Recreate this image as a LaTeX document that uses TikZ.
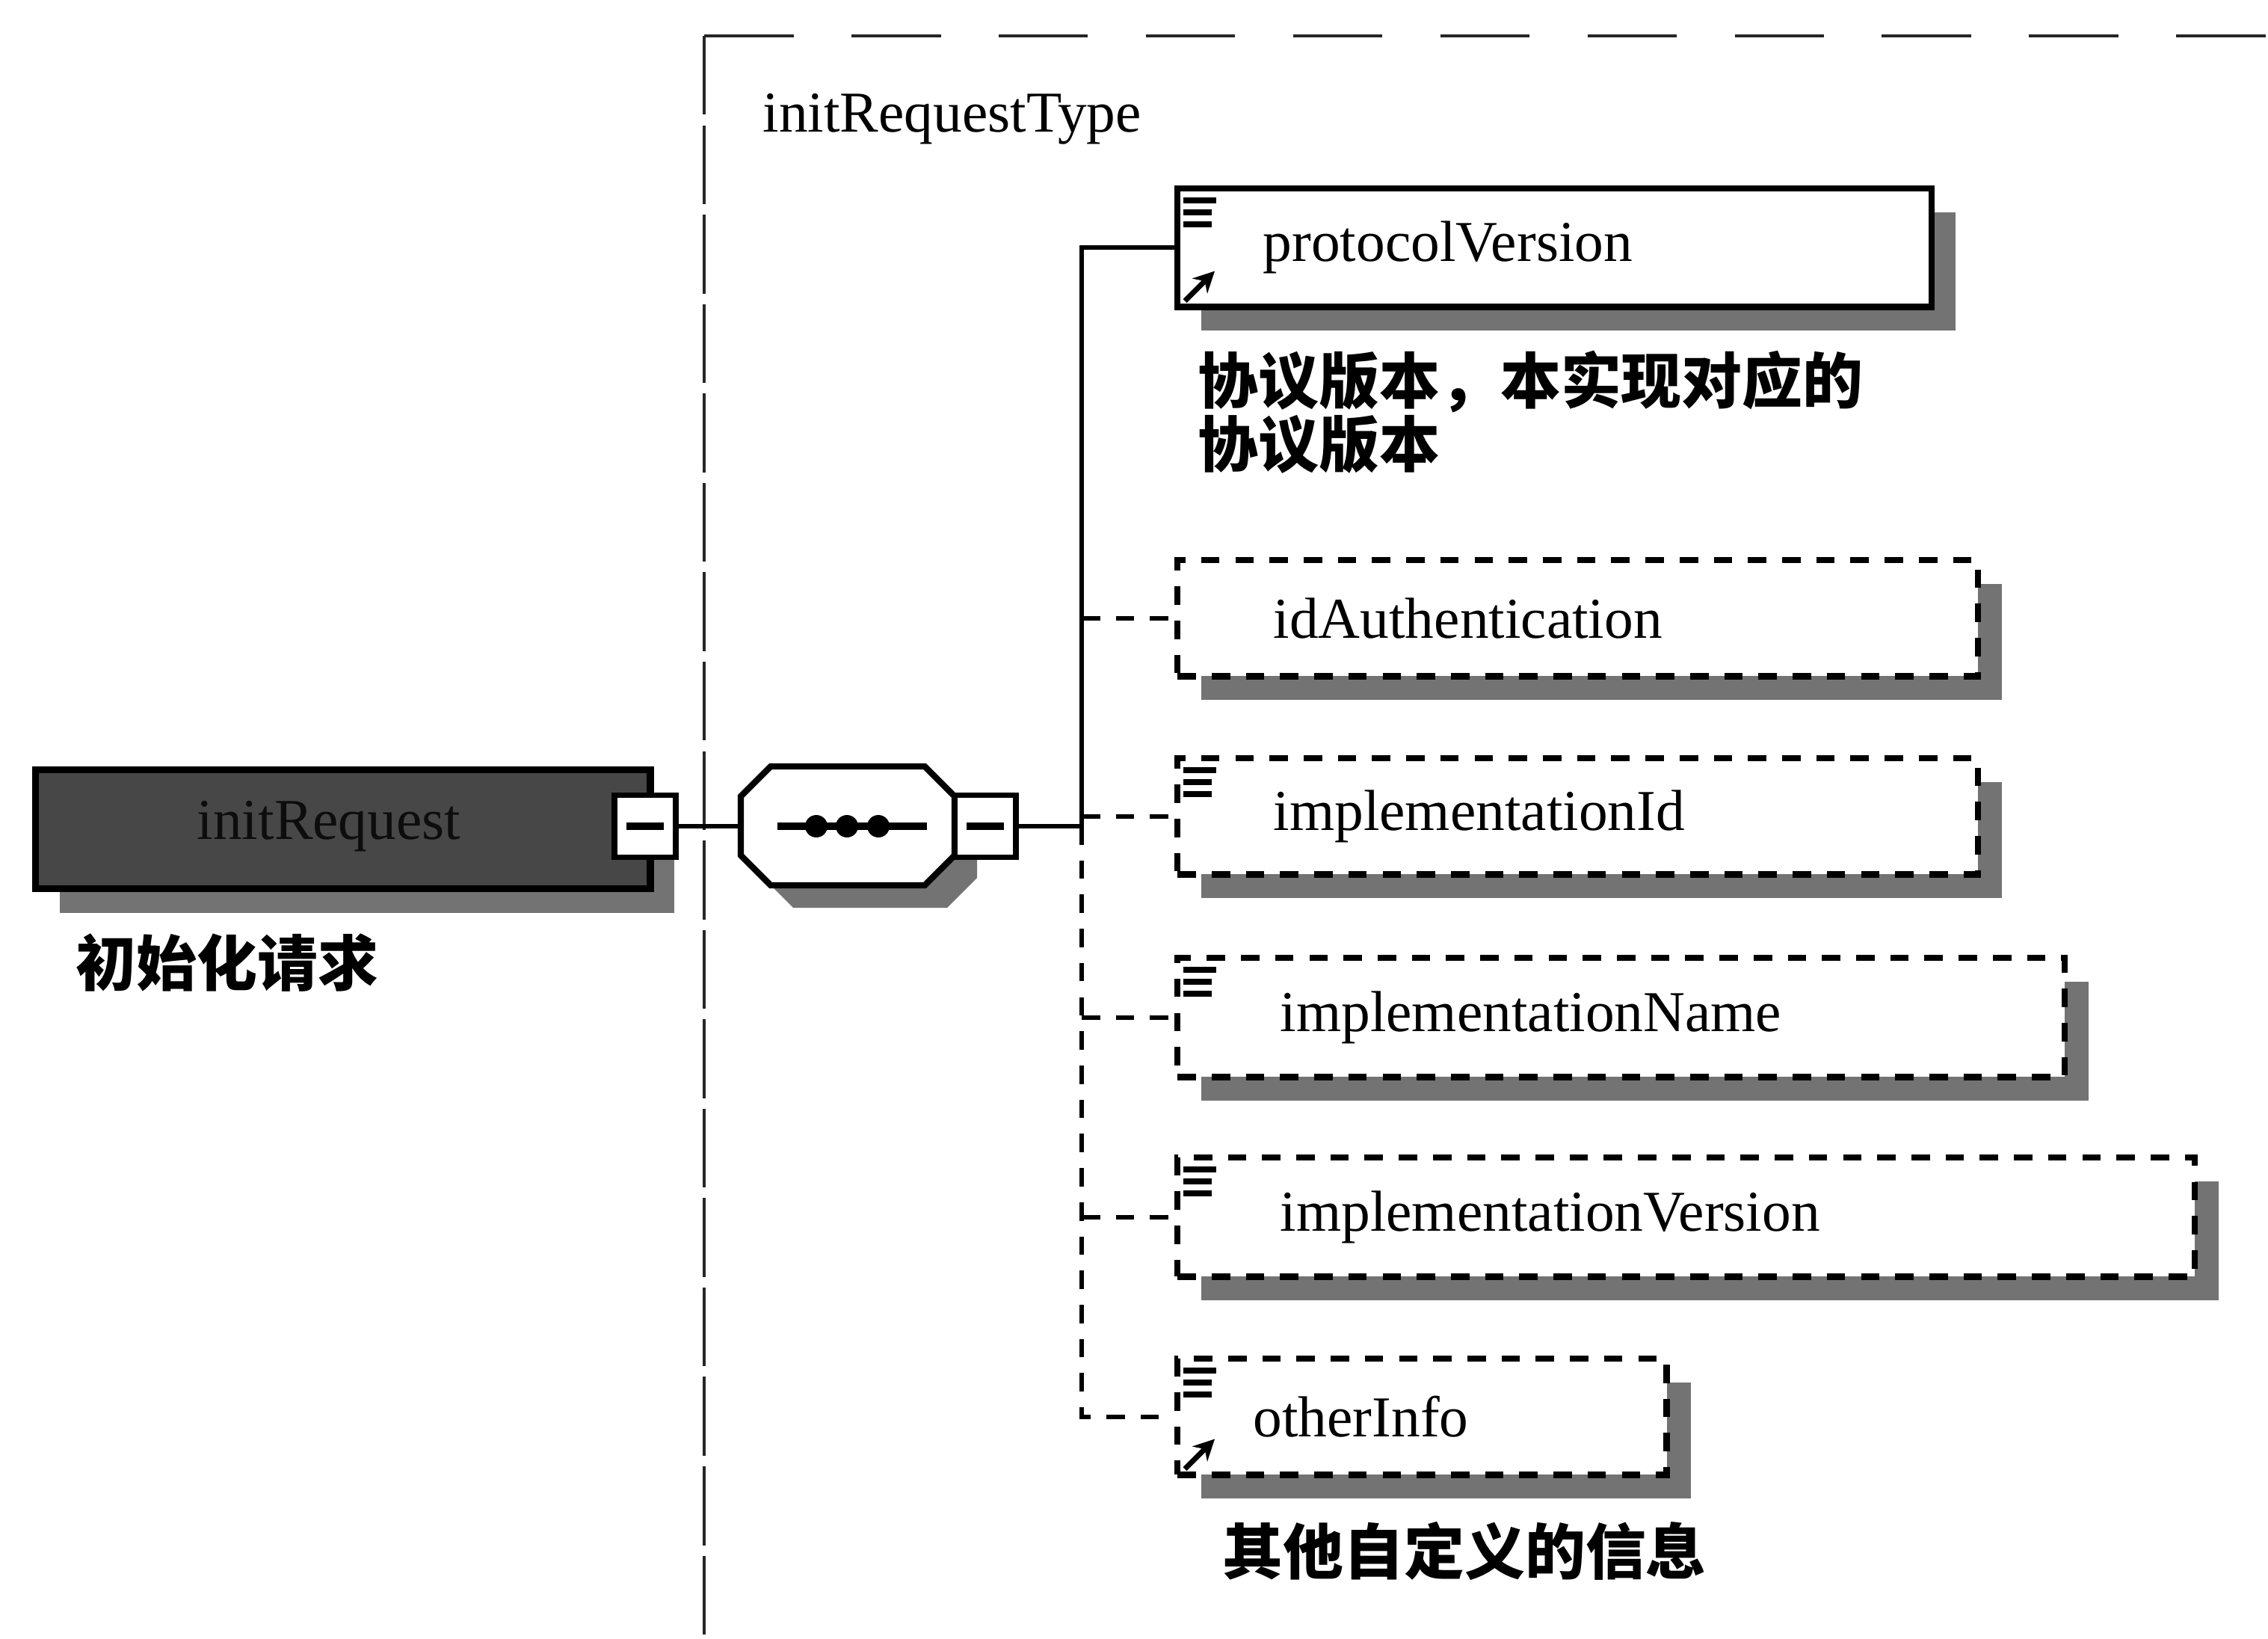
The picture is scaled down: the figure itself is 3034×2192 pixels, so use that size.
\documentclass[tikz,border=0pt]{standalone}
\usepackage{fontspec}
\setmainfont{Liberation Serif}
\newfontfamily\cjk{Noto Sans CJK SC}
\usetikzlibrary{calc,arrows.meta,shadows}
\newcommand\listicon[1]{%
  \draw[iconline] ($(#1.north west)+(12,20)$) -- ++(44,0);
  \draw[iconline] ($(#1.north west)+(12,36)$) -- ++(38,0);
  \draw[iconline] ($(#1.north west)+(12,52)$) -- ++(38,0);}
\newcommand\reficon[1]{%
  \draw[iconline,-{Stealth[length=8pt,width=8pt]}] ($(#1.south west)+(14,-12)$) -- ++(40,-40);}
\begin{document}
\begin{tikzpicture}[x=0.01cm,y=-0.01cm,
  lat/.style={font=\fontsize{22}{24}\selectfont, inner sep=0pt, anchor=west},
  zh/.style={font=\cjk\bfseries\fontsize{23}{22.5}\selectfont, inner sep=0pt, align=left},
  shad/.style={drop shadow={shadow xshift=0.32cm, shadow yshift=-0.32cm, fill=black!55, draw=none, opacity=1}},
  elem/.style={draw=black, line width=2.4pt, fill=white, inner sep=0pt, anchor=north west, shad},
  optelem/.style={elem, dash pattern=on 7pt off 6pt},
  smallbox/.style={draw=black, line width=2.2pt, fill=white, inner sep=0pt, minimum width=0.82cm, minimum height=0.83cm},
  conn/.style={line width=1.8pt},
  dconn/.style={line width=1.8pt, dash pattern=on 7pt off 6pt},
  frame/.style={line width=1.4pt, black!85},
  iconline/.style={line width=2pt},
]
\fill[white] (0,0) rectangle (3034,2192);
\useasboundingbox (0,0) rectangle (3034,2192);

% type frame
\draw[frame, dash pattern=on 34pt off 22pt] (942,48) -- (3034,48);
\draw[frame, dash pattern=on 30pt off 4pt] (942,48) -- (942,2192);
\node[lat] (typename) at (1020,159) {initRequestType};

% root element
\node[draw=black, line width=2.6pt, fill=black!72, inner sep=0pt, anchor=north west,
      minimum width=8.22cm, minimum height=1.59cm, shad] (req) at (43,1025) {};
\node[lat, anchor=center, text=black!95] (reqt) at (440,1105) {initRequest};
\node[smallbox] (reqc) at (863,1105) {};
\draw[line width=3pt] ($(reqc.center)+(-25,0)$) -- ($(reqc.center)+(25,0)$);
\node[zh, anchor=west] (reqd) at (101,1288) {初始化请求};

% sequence compositor
\node[inner sep=0pt, minimum width=2.86cm, minimum height=1.59cm] (seq) at (1134,1105) {};
\fill[black!55] (1061,1055) -- (1267,1055) -- (1307,1095) -- (1307,1174) -- (1267,1214) -- (1061,1214) -- (1021,1174) -- (1021,1095) -- cycle;
\draw[line width=2.4pt, fill=white] (1031,1025) -- (1237,1025) -- (1277,1065) -- (1277,1144) -- (1237,1184) -- (1031,1184) -- (991,1144) -- (991,1065) -- cycle;
\draw[line width=2.6pt] (1040,1105) -- (1240,1105);
\foreach \dx in {1092,1133,1175} \fill (\dx,1105) circle (15);
\node[smallbox] (seqc) at (1318,1105) {};
\draw[line width=3pt] ($(seqc.center)+(-25,0)$) -- ($(seqc.center)+(25,0)$);
\draw[conn] (reqc.east) -- (seq.west);

% child elements
\node[elem, minimum width=10.08cm, minimum height=1.58cm] (pv) at (1571,248) {};
\node[lat] (pvt) at ($(pv.west)+(118,0)$) {protocolVersion};
\listicon{pv}\reficon{pv}
\node[zh, anchor=north west] (pvd) at (1602,468) {协议版本，本实现对应的\\协议版本};

\node[optelem, minimum width=10.70cm, minimum height=1.55cm] (ida) at (1571,745) {};
\node[lat] (idat) at ($(ida.west)+(132,0)$) {idAuthentication};

\node[optelem, minimum width=10.70cm, minimum height=1.55cm] (iid) at (1571,1010) {};
\node[lat] (iidt) at ($(iid.west)+(132,0)$) {implementationId};
\listicon{iid}

\node[optelem, minimum width=11.86cm, minimum height=1.59cm] (iname) at (1571,1277) {};
\node[lat] (inamet) at ($(iname.west)+(141,0)$) {implementationName};
\listicon{iname}

\node[optelem, minimum width=13.60cm, minimum height=1.59cm] (iver) at (1571,1544) {};
\node[lat] (ivert) at ($(iver.west)+(141,0)$) {implementationVersion};
\listicon{iver}

\node[optelem, minimum width=6.54cm, minimum height=1.55cm] (oi) at (1571,1813) {};
\node[lat] (oit) at ($(oi.west)+(105,0)$) {otherInfo};
\listicon{oi}\reficon{oi}
\node[zh, anchor=west] (oid) at (1635,2074) {其他自定义的信息};

% connectors
\coordinate (bm) at (1447,1105);
\draw[conn] (seqc.east) -- (bm) |- (pv.west);
\draw[dconn] (bm) |- (oi.west);
\draw[dconn] (bm |- ida.west) -- (ida.west);
\draw[dconn] (bm |- iid.west) -- (iid.west);
\draw[dconn] (bm |- iname.west) -- (iname.west);
\draw[dconn] (bm |- iver.west) -- (iver.west);
\end{tikzpicture}
\end{document}
